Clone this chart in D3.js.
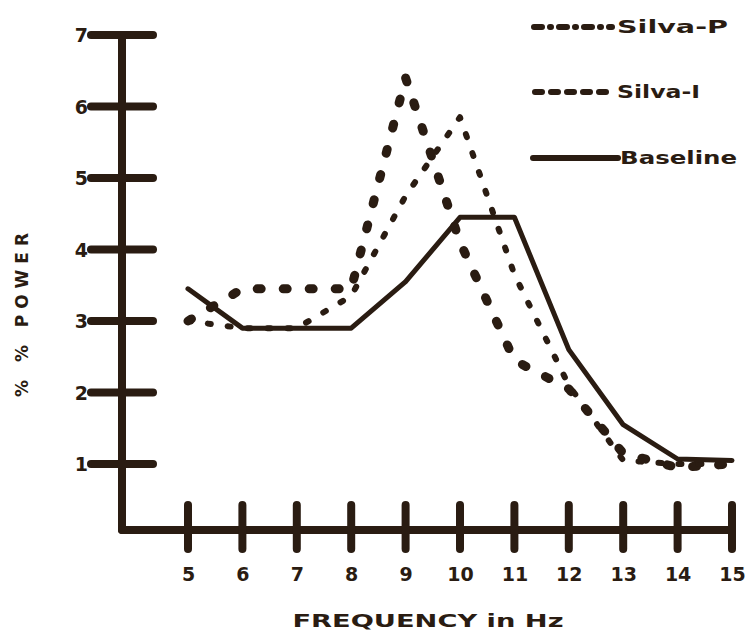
<!DOCTYPE html>
<html>
<head>
<meta charset="utf-8">
<script src="https://cdn.jsdelivr.net/npm/d3@7"></script>
<style>
  html, body { margin: 0; padding: 0; background: #fff; }
  svg { display: block; }
  text { font-family: "DejaVu Sans", "Liberation Sans", sans-serif; font-weight: bold; fill: #2a1c12; }
</style>
</head>
<body>
<div id="chart"></div>
<script>
// values
const frequencies = [5, 6, 7, 8, 9, 10, 11, 12, 13, 14, 15];
const silvaP   = [3.0, 3.45, 3.45, 3.45, 6.4, 4.1, 2.45, 2.05, 1.15, 0.95, 1.0];
const silvaI   = [3.0, 2.9, 2.9, 3.35, 4.75, 5.85, 3.65, 2.1, 1.05, 1.0, 1.0];
const baseline = [3.45, 2.9, 2.9, 2.9, 3.55, 4.45, 4.45, 2.6, 1.55, 1.07, 1.05];

const yTicks = [1, 2, 3, 4, 5, 6, 7];
const seriesNames = ['Silva-P', 'Silva-I', 'Baseline'];

const ink = '#2a1c12';
const width = 747, height = 642;

const svg = d3.select('#chart').append('svg')
    .attr('width', width)
    .attr('height', height);

// scales
const x = d3.scaleLinear().domain([5, 15]).range([188, 732]);
const y = d3.scaleLinear().domain([1, 7]).range([464, 35]);

const originX = 122, originY = 530;

// axis lines
svg.append('line')
    .attr('x1', originX).attr('x2', originX)
    .attr('y1', y(7)).attr('y2', originY)
    .attr('stroke', ink).attr('stroke-width', 8).attr('stroke-linecap', 'round');
svg.append('line')
    .attr('x1', originX).attr('x2', x(15))
    .attr('y1', originY).attr('y2', originY)
    .attr('stroke', ink).attr('stroke-width', 8).attr('stroke-linecap', 'round');

// y ticks + labels
const yAxis = d3.axisLeft(y).tickValues(yTicks).tickSize(0).tickPadding(0).tickFormat(d3.format('d'));
const yg = svg.append('g').attr('transform', `translate(88,0)`).call(yAxis);
yg.select('.domain').remove();
yg.attr('font-size', null).attr('font-family', null);
yg.selectAll('text').style('font-size', '19px').attr('x', 0).attr('dy', '0.36em');

svg.append('g').selectAll('line')
    .data(yTicks)
    .join('line')
    .attr('x1', originX - 31).attr('x2', originX + 31)
    .attr('y1', d => y(d)).attr('y2', d => y(d))
    .attr('stroke', ink).attr('stroke-width', 8).attr('stroke-linecap', 'round');

// x ticks + labels
const xAxis = d3.axisBottom(x).tickValues(frequencies).tickSize(0).tickPadding(0).tickFormat(d3.format('d'));
const xg = svg.append('g').attr('transform', `translate(0,574)`).call(xAxis);
xg.select('.domain').remove();
xg.attr('font-size', null).attr('font-family', null);
xg.selectAll('text').style('font-size', '19px').attr('y', 0).attr('dy', '0.36em');

svg.append('g').selectAll('line')
    .data(frequencies)
    .join('line')
    .attr('x1', d => x(d)).attr('x2', d => x(d))
    .attr('y1', originY - 25).attr('y2', originY + 19)
    .attr('stroke', ink).attr('stroke-width', 8).attr('stroke-linecap', 'round');

// series
const line = d3.line()
    .x((d, i) => x(frequencies[i]))
    .y(d => y(d));

const styles = {
    'Silva-P': { data: silvaP, width: 9, dash: '4,22' },
    'Silva-I': { data: silvaI, width: 6, dash: '3,17' },
    'Baseline': { data: baseline, width: 5, dash: null }
};

seriesNames.forEach(name => {
    const s = styles[name];
    svg.append('path')
        .datum(s.data)
        .attr('fill', 'none')
        .attr('stroke', ink)
        .attr('stroke-width', s.width)
        .attr('stroke-linecap', 'round')
        .attr('stroke-linejoin', 'round')
        .attr('stroke-dasharray', s.dash)
        .attr('d', line);
});

// legend
const legendRows = [
    { name: 'Silva-P', y: 27, x1: 534, x2: 612, tx: 617, tw: 111, dash: '8,8,1,8' },
    { name: 'Silva-I', y: 92, x1: 535, x2: 611, tx: 617, tw: 83, dash: '7,9' },
    { name: 'Baseline', y: 158, x1: 533, x2: 618, tx: 620, tw: 117, dash: null }
];
legendRows.forEach(r => {
    svg.append('line')
        .attr('x1', r.x1).attr('x2', r.x2)
        .attr('y1', r.y).attr('y2', r.y)
        .attr('stroke', ink)
        .attr('stroke-width', 6)
        .attr('stroke-linecap', 'round')
        .attr('stroke-dasharray', r.dash);
    svg.append('text')
        .attr('x', r.tx).attr('y', r.y)
        .attr('dy', '0.36em')
        .attr('textLength', r.tw)
        .attr('lengthAdjust', 'spacingAndGlyphs')
        .style('font-size', '18px')
        .text(r.name);
});

// axis titles
svg.append('text')
    .attr('x', 428).attr('y', 621)
    .attr('text-anchor', 'middle')
    .attr('dy', '0.35em')
    .attr('textLength', 271)
    .attr('lengthAdjust', 'spacingAndGlyphs')
    .style('font-size', '17px')
    .text('FREQUENCY in Hz');

svg.append('text')
    .attr('transform', 'translate(22,315) rotate(-90)')
    .attr('text-anchor', 'middle')
    .attr('dy', '0.35em')
    .attr('textLength', 164)
    .attr('lengthAdjust', 'spacing')
    .style('font-size', '17px')
    .text('% % POWER');
</script>
</body>
</html>
